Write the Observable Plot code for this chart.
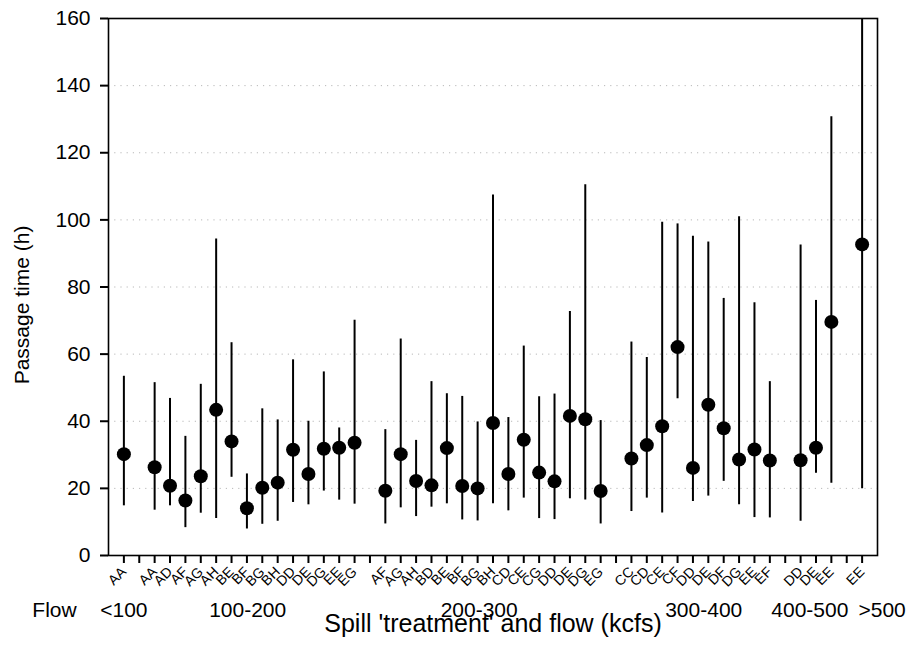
<!DOCTYPE html>
<html>
<head>
<meta charset="utf-8">
<script src="https://cdn.jsdelivr.net/npm/d3@7"></script>
<script src="https://cdn.jsdelivr.net/npm/@observablehq/plot@0.6"></script>
<style>
  html, body { margin: 0; padding: 0; background: #fff; }
  #chart { width: 908px; height: 647px; }
</style>
</head>
<body>
<div id="chart"></div>
<script>
// ---- Data ----
const flowGroups = ["<100", "100-200", "200-300", "300-400", "400-500", ">500"];
const flowLabelAt = [1, 9.05, 24.1, 38.7, 45.6, 50.3];   // axis position of each flow-group label
const flowOf = [
  "<100",
  "100-200","100-200","100-200","100-200","100-200","100-200","100-200","100-200","100-200","100-200","100-200","100-200","100-200","100-200",
  "200-300","200-300","200-300","200-300","200-300","200-300","200-300","200-300","200-300","200-300","200-300","200-300","200-300","200-300","200-300",
  "300-400","300-400","300-400","300-400","300-400","300-400","300-400","300-400","300-400","300-400",
  "400-500","400-500","400-500",
  ">500"
];
const treatment = [
  "AA",
  "AA","AD","AF","AG","AH","BE","BF","BG","BH","DD","DE","DG","EE","EG",
  "AF","AG","AH","BD","BE","BF","BG","BH","CD","CE","CG","DD","DE","DG","EG",
  "CC","CD","CE","CF","DD","DE","DF","DG","EE","EF",
  "DD","DE","EE",
  "EE"
];
const median = [
  30.2,
  26.3,20.8,16.4,23.6,43.4,34.0,14.1,20.2,21.7,31.5,24.3,31.8,32.1,33.6,
  19.3,30.2,22.2,20.9,32.0,20.7,20.0,39.5,24.3,34.5,24.7,22.1,41.6,40.6,19.2,
  28.9,32.9,38.5,62.1,26.1,44.9,37.9,28.6,31.6,28.3,
  28.4,32.1,69.6,
  92.7
];
const lower = [
  14.8,
  13.5,14.8,8.3,12.6,11.0,23.3,7.9,9.3,10.2,15.8,15.1,19.2,16.5,15.3,
  9.4,14.2,11.6,14.4,15.4,10.6,10.3,15.4,13.3,17.1,11.0,10.7,16.9,16.5,9.4,
  13.1,17.1,12.7,46.7,16.1,17.7,22.1,15.1,11.3,11.2,
  10.2,24.5,21.5,
  19.9
];
const upper = [
  53.4,
  51.5,46.8,35.5,51.0,94.3,63.4,24.3,43.7,40.4,58.3,40.0,54.7,38.0,70.1,
  37.5,64.5,34.3,51.8,48.2,47.4,39.8,107.4,41.1,62.4,47.3,48.1,72.7,110.5,40.2,
  63.6,59.0,99.3,98.8,95.1,93.4,76.6,100.9,75.3,51.8,
  92.5,76.0,130.7,
  160
];
const yTicks = [0, 20, 40, 60, 80, 100, 120, 140, 160];
const gridValues = [20, 40, 60, 80, 100, 120, 140];
const yTitle = "Passage time (h)";
const xTitle = "Spill 'treatment' and flow (kcfs)";
const flowHeader = "Flow";

// ---- Build table: one empty slot between flow groups ----
const data = treatment.map((t, i) => ({
  treatment: t,
  flow: flowOf[i],
  pos: i + 1 + flowGroups.indexOf(flowOf[i]),
  median: median[i],
  lower: lower[i],
  upper: upper[i]
}));
const nSlots = data[data.length - 1].pos + 1;
const tickLabel = new Map(data.map(d => [d.pos, d.treatment]));

const font = "'Liberation Sans', Arial, Helvetica, sans-serif";

const chart = Plot.plot({
  width: 908,
  height: 647,
  marginLeft: 108,
  marginRight: 31,
  marginTop: 18,
  marginBottom: 92,
  style: { fontFamily: font, background: "#fff", color: "#000" },
  x: { domain: [0, nSlots], axis: null },
  y: { domain: [0, 160], axis: null },
  marks: [
    Plot.ruleY(gridValues, { stroke: "#b8b8b8", strokeDasharray: "1.2,5" }),
    Plot.ruleX(data, { x: "pos", y1: "lower", y2: "upper", stroke: "#000", strokeWidth: 2 }),
    Plot.dot(data, { x: "pos", y: "median", r: 7, fill: "#000", stroke: "none" }),
    Plot.frame({ stroke: "#000", strokeWidth: 1.6 }),
    Plot.axisY({
      ticks: yTicks, tickSize: 8, tickPadding: 10, fontSize: 21,
      label: null, tickFormat: d => String(d), strokeWidth: 2
    }),
    Plot.axisX({
      ticks: d3.range(1, nSlots), tickSize: 8, strokeWidth: 2,
      text: null, label: null
    }),
    Plot.axisX({
      ticks: d3.range(1, nSlots), tickSize: 0, tickPadding: 8, dy: 6, fontSize: 14,
      tickRotate: -45, label: null, tickFormat: d => tickLabel.get(d) ?? ""
    }),
    Plot.text(flowGroups, {
      x: flowLabelAt, text: d => d, frameAnchor: "bottom", dy: 47,
      lineAnchor: "top", textAnchor: "middle", fontSize: 21
    }),
    Plot.text([flowHeader], {
      frameAnchor: "bottom-left", dx: -54, dy: 47, lineAnchor: "top",
      textAnchor: "middle", fontSize: 21
    }),
    Plot.text([xTitle], {
      frameAnchor: "bottom", dy: 59, lineAnchor: "top", textAnchor: "middle", fontSize: 25
    }),
    Plot.text([yTitle], {
      frameAnchor: "left", dx: -86, dy: 18, rotate: -90, textAnchor: "middle", lineAnchor: "middle", fontSize: 21
    })
  ]
});
document.getElementById("chart").appendChild(chart);
</script>
</body>
</html>
